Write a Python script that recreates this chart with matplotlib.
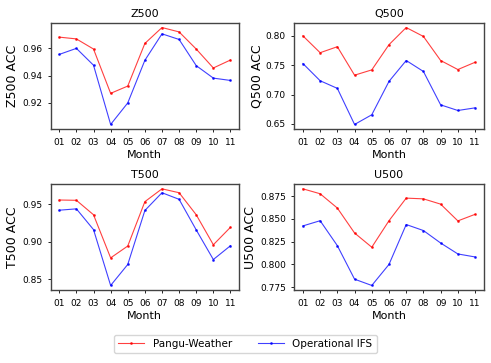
import matplotlib
matplotlib.use('Agg')
import matplotlib.pyplot as plt

months = ['01', '02', '03', '04', '05', '06', '07', '08', '09', '10', '11']

z500_pangu = [0.968, 0.9667, 0.9593, 0.927, 0.9323, 0.9634, 0.975, 0.9718, 0.9593, 0.9455, 0.9513]
z500_ifs = [0.9554, 0.9598, 0.9475, 0.9043, 0.920, 0.9511, 0.9704, 0.9663, 0.9472, 0.9381, 0.9364]

q500_pangu = [0.800, 0.7713, 0.7815, 0.733, 0.742, 0.785, 0.8142, 0.799, 0.758, 0.7426, 0.755]
q500_ifs = [0.7528, 0.7235, 0.7105, 0.649, 0.6655, 0.7224, 0.758, 0.7393, 0.6824, 0.6728, 0.6773]

t500_pangu = [0.9557, 0.9553, 0.936, 0.8785, 0.8943, 0.9535, 0.9706, 0.9654, 0.936, 0.896, 0.9193]
t500_ifs = [0.9421, 0.9439, 0.9162, 0.8417, 0.8697, 0.9417, 0.9654, 0.9566, 0.9158, 0.8763, 0.8947]

u500_pangu = [0.883, 0.8776, 0.8619, 0.8345, 0.8189, 0.848, 0.8728, 0.872, 0.8662, 0.8478, 0.855]
u500_ifs = [0.8423, 0.848, 0.8206, 0.7838, 0.7769, 0.800, 0.8438, 0.8372, 0.8235, 0.8115, 0.8082]

panels = [
    ('Z500', z500_pangu, z500_ifs, [0.1033, 0.6438, 0.3835, 0.2937], [0.92, 0.94, 0.96], '%.2f'),
    ('Q500', q500_pangu, q500_ifs, [0.5994, 0.6438, 0.3857, 0.2937], [0.65, 0.70, 0.75, 0.80], '%.2f'),
    ('T500', t500_pangu, t500_ifs, [0.1033, 0.2003, 0.3835, 0.2928], [0.85, 0.90, 0.95], '%.2f'),
    ('U500', u500_pangu, u500_ifs, [0.5994, 0.2003, 0.3857, 0.2928], [0.775, 0.800, 0.825, 0.850, 0.875], '%.3f'),
]

fig = plt.figure(figsize=(4.91, 3.63), dpi=100)

for name, pangu, ifs, pos, yt, fmt in panels:
    ax = fig.add_axes(pos)
    ax.plot(months, pangu, color='red', alpha=0.75, lw=0.8, marker='.', markersize=2, label='Pangu-Weather')
    ax.plot(months, ifs, color='blue', alpha=0.75, lw=0.8, marker='.', markersize=2, label='Operational IFS')
    ax.set_yticks(yt)
    ax.set_yticklabels([fmt % v for v in yt])
    ax.tick_params(labelsize=6.5, length=2.5, width=0.6)
    ax.set_title(name, fontsize=8, pad=4)
    ax.set_xlabel('Month', fontsize=8, labelpad=2.5)
    ax.set_ylabel(name + ' ACC', fontsize=9, labelpad=2)
    for s in ax.spines.values():
        s.set_color('#444444')
        s.set_linewidth(1.0)

handles, labels = ax.get_legend_handles_labels()
fig.legend(handles, labels, loc='center', bbox_to_anchor=(0.5, 0.052), ncol=2,
           fontsize=7.5, frameon=True, handlelength=2.5, columnspacing=2.5)

fig.savefig('out.png', dpi=100)
